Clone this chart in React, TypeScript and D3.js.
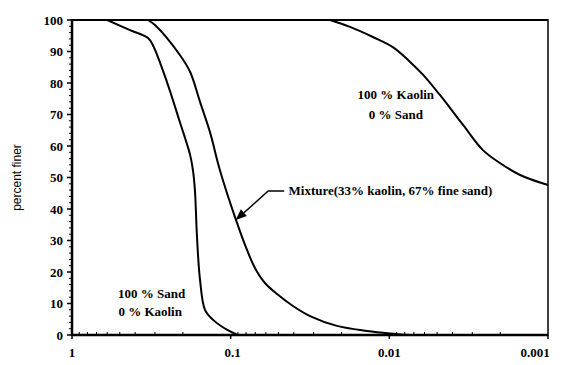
import React from 'react';
import * as d3 from 'd3';

// grain diameter (mm) and percent finer
// (flat stretches at 100 % and 0 % lie on the frame and are left out)
const sandDiam = [0.6, 0.431, 0.332, 0.309, 0.252, 0.209, 0.18, 0.173, 0.168, 0.163, 0.156, 0.145, 0.129, 0.105, 0.09];
const sandPct = [100, 96.8, 94.3, 92, 80.3, 67.6, 57.1, 52.4, 46, 31.1, 17.5, 7.9, 4.8, 1.6, 0];

const mixDiam = [0.332, 0.3, 0.209, 0.18, 0.156, 0.135, 0.117, 0.094, 0.0789, 0.0703, 0.0608, 0.051, 0.0405, 0.0316, 0.0214, 0.0138, 0.0099, 0.0074];
const mixPct = [100, 98.4, 88.9, 83.5, 74, 64.4, 52.4, 37.5, 27, 21.3, 16.5, 13, 9.2, 6, 2.9, 1.3, 0.5, 0];

const kaolinDiam = [0.0237, 0.0177, 0.0127, 0.0095, 0.0074, 0.0061, 0.0048, 0.00343, 0.00257, 0.00201, 0.0015, 0.001];
const kaolinPct = [100, 97.8, 94.6, 91.4, 86.7, 82.5, 76.2, 66.7, 58.7, 54.6, 50.8, 47.6];

const xTicks = [1, 0.1, 0.01, 0.001];
const xTickLabels = ['1', '0.1', '0.01', '0.001'];
const yTicks = [0, 10, 20, 30, 40, 50, 60, 70, 80, 90, 100];

const W = 566;
const H = 365;
const margin = { top: 20, right: 18, bottom: 30, left: 72 };

export default function App() {
  const innerW = W - margin.left - margin.right;
  const innerH = H - margin.top - margin.bottom;

  const x = d3.scaleLog().domain([1, 0.001]).range([0, innerW]);
  const y = d3.scaleLinear().domain([0, 100]).range([innerH, 0]);

  const line = d3
    .line<[number, number]>()
    .x(d => x(d[0]))
    .y(d => y(d[1]))
    .curve(d3.curveCatmullRom.alpha(0.5));

  const series = [
    d3.zip(sandDiam, sandPct) as [number, number][],
    d3.zip(mixDiam, mixPct) as [number, number][],
    d3.zip(kaolinDiam, kaolinPct) as [number, number][],
  ];

  const minorY = d3.range(0, 101, 2).filter(v => v % 10 !== 0);
  const minorX: number[] = [];
  [1, 0.1, 0.01].forEach(dec => {
    for (let k = 2; k <= 9; k++) minorX.push((dec / 10) * k);
  });

  const serif = '"Liberation Serif", "Times New Roman", serif';

  // arrow for mixture label
  const arrowStart: [number, number] = [x(0.046), y(45.7)];
  const arrowElbow: [number, number] = [x(0.058), y(45.7)];
  const arrowTip: [number, number] = [x(0.093), y(36.5)];
  const ang = Math.atan2(arrowTip[1] - arrowElbow[1], arrowTip[0] - arrowElbow[0]);
  const hl = 11;
  const hw = 4.5;
  const bx = arrowTip[0] - hl * Math.cos(ang);
  const by = arrowTip[1] - hl * Math.sin(ang);
  const head = [
    [arrowTip[0], arrowTip[1]],
    [bx + hw * Math.sin(ang), by - hw * Math.cos(ang)],
    [bx - hw * Math.sin(ang), by + hw * Math.cos(ang)],
  ]
    .map(p => p.join(','))
    .join(' ');

  return (
    <svg
      width={W}
      height={H}
      style={{ position: 'absolute', left: 0, top: 0, background: '#fff' }}
    >
      <g transform={`translate(${margin.left},${margin.top})`}>
        {/* y ticks */}
        {yTicks.map(t => (
          <g key={t} transform={`translate(0,${y(t)})`}>
            <line x1={-5} x2={0} stroke="#000" strokeWidth={1.5} />
            <text
              x={-9}
              dy="0.35em"
              textAnchor="end"
              fontFamily={serif}
              fontSize={13}
              fontWeight="bold"
            >
              {t}
            </text>
          </g>
        ))}
        {minorY.map(t => (
          <line key={t} x1={-3} x2={0} y1={y(t)} y2={y(t)} stroke="#000" strokeWidth={1} />
        ))}
        {/* x ticks */}
        {xTicks.map((t, i) => (
          <g key={t} transform={`translate(${x(t)},${innerH})`}>
            <line y1={0} y2={4} stroke="#000" strokeWidth={1.5} />
            <text
              x={i === xTicks.length - 1 ? -13 : i === 1 ? 2 : 0}
              y={22}
              textAnchor="middle"
              fontFamily={serif}
              fontSize={13}
              fontWeight="bold"
            >
              {xTickLabels[i]}
            </text>
          </g>
        ))}
        {minorX.map(t => (
          <line key={t} x1={x(t)} x2={x(t)} y1={innerH} y2={innerH - 3} stroke="#000" strokeWidth={1} />
        ))}

        {/* frame */}
        <rect x={0} y={0} width={innerW} height={innerH} fill="none" stroke="#000" strokeWidth={1.5} />
        <line x1={0} x2={innerW} y1={0} y2={0} stroke="#000" strokeWidth={2} />
        <line x1={0} x2={0} y1={0} y2={innerH} stroke="#000" strokeWidth={2.5} />
        <line x1={0} x2={innerW} y1={innerH} y2={innerH} stroke="#000" strokeWidth={2.5} />

        {/* curves */}
        {series.map((s, i) => (
          <path key={i} d={line(s) ?? ''} fill="none" stroke="#000" strokeWidth={2} />
        ))}

        {/* annotations */}
        <g fontFamily={serif} fontSize={13} fontWeight="bold">
          <text x={x(0.0091)} y={y(75)} textAnchor="middle">100 % Kaolin</text>
          <text x={x(0.0091)} y={y(68.6)} textAnchor="middle">0 % Sand</text>
          <text x={x(0.513)} y={y(11.7)}>100 % Sand</text>
          <text x={x(0.51)} y={y(6)}>0 % Kaolin</text>
          <text x={x(0.0432)} y={y(44.6)}>Mixture(33% kaolin, 67% fine sand)</text>
        </g>
        <polyline
          points={[arrowStart, arrowElbow, [bx, by]].map(p => p.join(',')).join(' ')}
          fill="none"
          stroke="#000"
          strokeWidth={1.5}
        />
        <polygon points={head} fill="#000" />
      </g>
      <text
        transform={`translate(21,${margin.top + innerH / 2}) rotate(-90)`}
        textAnchor="middle"
        fontFamily='"Liberation Sans", Arial, sans-serif'
        fontSize={12}
      >
        percent finer
      </text>
    </svg>
  );
}
